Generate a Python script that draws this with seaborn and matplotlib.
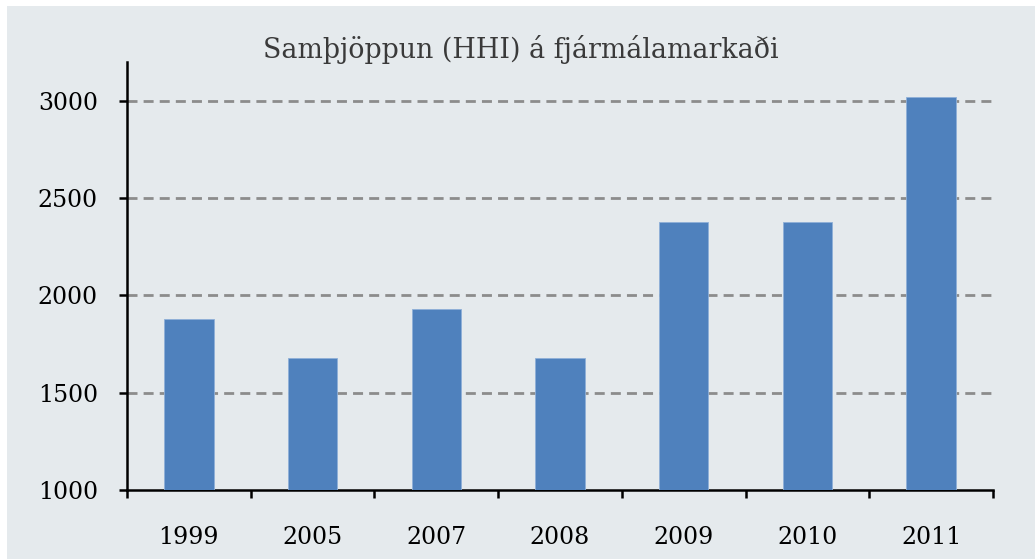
import matplotlib
matplotlib.use('Agg')
import matplotlib.pyplot as plt
import seaborn as sns
import pandas as pd
from matplotlib.patches import Rectangle

# Data
years = ['1999', '2005', '2007', '2008', '2009', '2010', '2011']
hhi = [1880, 1680, 1930, 1680, 2380, 2380, 3020]
y_ticks = [1000, 1500, 2000, 2500, 3000]
title = 'Samþjöppun (HHI) á fjármálamarkaði'

df = pd.DataFrame({'Ár': years, 'HHI': hhi})

sns.set_style('ticks')
plt.rcParams['font.family'] = ['DejaVu Serif']

bg = '#E5EAED'
fig = plt.figure(figsize=(10.35, 5.59), dpi=100)
fig.patch.set_facecolor('white')
# grey panel behind the chart (white strip on top and left)
fig.patches.append(Rectangle((7 / 1035, 0), 1 - 7 / 1035, 1 - 6 / 559,
                             transform=fig.transFigure, facecolor=bg,
                             edgecolor='none', zorder=-10))

ax = fig.add_axes([127 / 1035, 1 - 490 / 559, (993 - 127) / 1035, (490 - 62) / 559])
ax.set_facecolor(bg)
ax.patch.set_alpha(0)

sns.barplot(data=df, x='Ár', y='HHI', color='#4F81BD', saturation=1,
            width=0.4, edgecolor='#8FB0D8', linewidth=0.6, ax=ax, zorder=3)

ax.set_xlim(-0.5, len(years) - 0.5)
ax.set_ylim(1000, 3200)
ax.set_yticks(y_ticks)
ax.set_xlabel('')
ax.set_ylabel('')

# dashed horizontal gridlines
for v in y_ticks[1:]:
    ax.axhline(v, color='#8C8C8C', lw=2, dashes=(3.6, 2.2), zorder=1)

for side in ['top', 'right']:
    ax.spines[side].set_visible(False)
for side in ['left', 'bottom']:
    ax.spines[side].set_linewidth(1.8)
    ax.spines[side].set_color('black')

# tick marks between categories, labels at the category centres
ax.set_xticks([i - 0.5 for i in range(len(years) + 1)], minor=True)
ax.tick_params(axis='x', which='minor', length=6, width=1.8, direction='out', color='black')
ax.tick_params(axis='x', which='major', length=0, pad=26, labelsize=17, labelcolor='black')
ax.tick_params(axis='y', which='major', length=6, width=1.8, direction='out',
               pad=15, labelsize=17, labelcolor='black', color='black')

fig.text(521 / 1035, 1 - 50 / 559, title, ha='center', va='center',
         fontsize=19.4, color='#3A3A3A')

fig.savefig('out.png', dpi=100, facecolor=fig.get_facecolor())
